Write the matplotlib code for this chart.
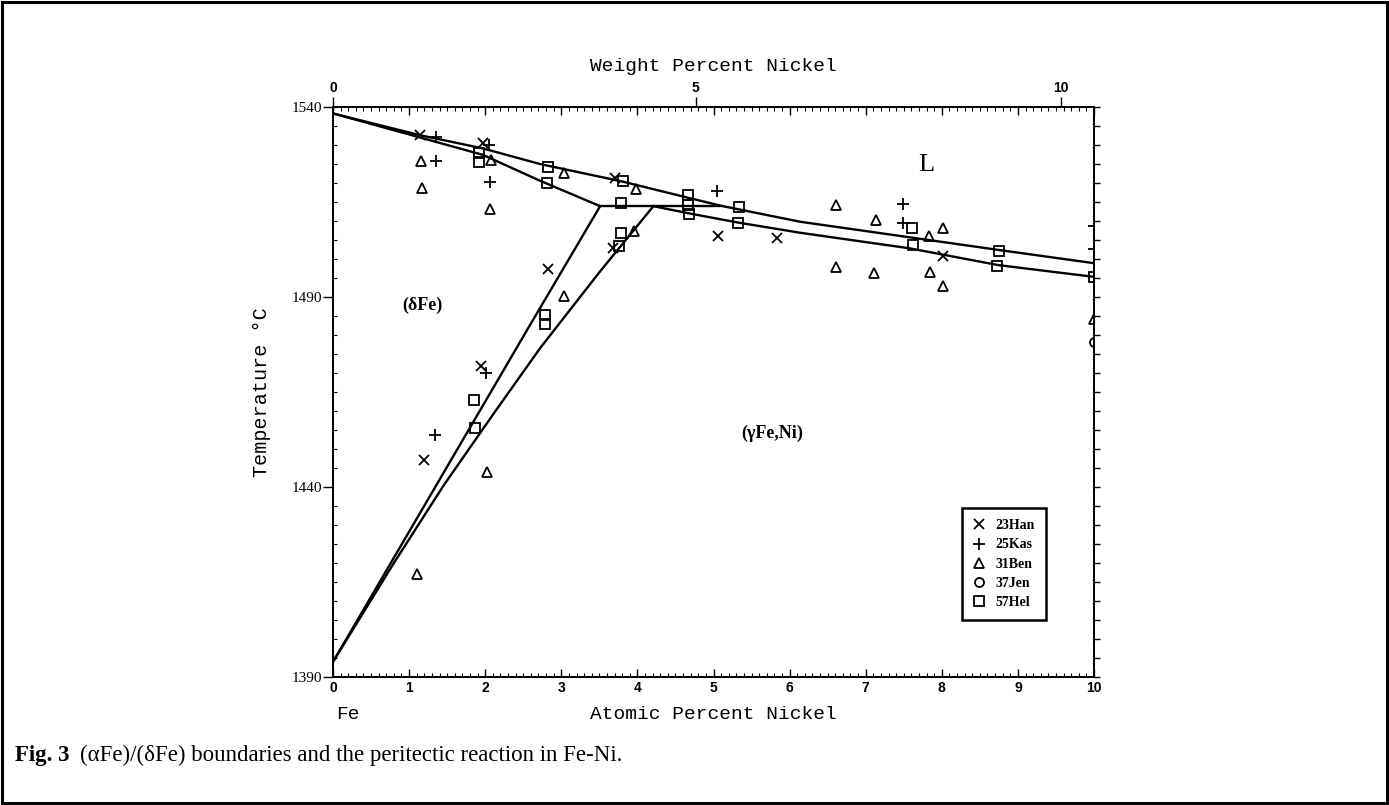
"""
Fe-Ni: (deltaFe)/(gammaFe) boundaries and the peritectic reaction
"""
import matplotlib.pyplot as plt
from matplotlib.patches import Rectangle
from matplotlib.ticker import MultipleLocator

# Phase boundaries (atomic % Ni, temperature in C)
liq_x = [0, 1.14, 1.97, 2.72, 3.8, 4.65, 5.1, 6.14, 7.58, 8.74, 10]
liq_t = [1538.3, 1532.6, 1529.1, 1525.0, 1520.4, 1516.2, 1514.0, 1509.8, 1505.7, 1502.4, 1498.9]

sol_d_x = [0, 1.14, 1.97, 2.72, 3.51]
sol_d_t = [1538.3, 1532.0, 1527.4, 1520.6, 1513.9]

perit_x = [3.51, 5.1]
perit_t = [1513.9, 1513.9]

sol_g_x = [4.21, 4.68, 5.32, 6.14, 7.58, 8.74, 10]
sol_g_t = [1513.9, 1512.0, 1509.6, 1506.9, 1502.8, 1498.4, 1495.3]

delta_x = [0, 2.55, 3.51]
delta_t = [1394, 1481.3, 1513.9]

gamma_x = [0, 0.8, 1.45, 2.1, 2.72, 3.5, 4.21]
gamma_t = [1394, 1420.0, 1440.3, 1459.0, 1476.5, 1496.5, 1513.9]

# Experimental points
han_x = [1.14, 1.97, 3.71, 5.06, 5.84, 8.01, 3.68, 2.82, 1.95, 1.19]
han_t = [1532.6, 1530.4, 1521.2, 1506.1, 1505.6, 1500.8, 1502.8, 1497.3, 1471.8, 1447.1]

kas_x = [1.35, 1.36, 2.05, 2.06, 5.04, 7.49, 7.49, 10.0, 10.0, 2.01, 1.34]
kas_t = [1532.0, 1525.9, 1530.0, 1520.3, 1518.0, 1514.5, 1509.4, 1508.7, 1502.6, 1469.9, 1453.7]

ben_x = [1.16, 1.17, 2.07, 2.06, 3.04, 3.98, 3.95, 3.04, 6.61, 7.13, 7.83, 8.01,
         6.61, 7.11, 7.84, 8.01, 10.0, 2.03, 1.10]
ben_t = [1525.9, 1518.6, 1526.0, 1513.1, 1522.7, 1518.3, 1507.5, 1490.3, 1514.2, 1510.3,
         1506.1, 1508.1, 1498.0, 1496.4, 1496.7, 1492.9, 1484.1, 1444.0, 1417.1]

jen_x = [10.0]
jen_t = [1478.2]

hel_x = [1.92, 1.92, 2.82, 2.81, 3.81, 3.79, 3.78, 3.76, 4.66, 4.66, 4.68, 5.33, 5.32,
         7.61, 7.62, 8.75, 8.73, 10.0, 2.79, 2.79, 1.85, 1.87]
hel_t = [1527.8, 1525.6, 1524.3, 1520.1, 1520.5, 1514.7, 1506.9, 1503.5, 1516.8, 1514.2,
         1511.8, 1513.6, 1509.6, 1508.1, 1503.7, 1502.2, 1498.2, 1495.3, 1485.3, 1482.8,
         1463.0, 1455.6]

at_ticks = list(range(0, 11))
wt_labels = [0, 5, 10]


def wt_to_at(w):
    """weight % Ni -> atomic % Ni"""
    n_ni = w / 58.69
    n_fe = (100 - w) / 55.845
    return 100 * n_ni / (n_ni + n_fe)


W, H = 1389, 805
fig = plt.figure(figsize=(W / 100, H / 100), dpi=100)
ax = fig.add_axes([333 / W, 128 / H, 761 / W, 570 / H])

for bx, bt in [(liq_x, liq_t), (sol_d_x, sol_d_t), (perit_x, perit_t),
               (sol_g_x, sol_g_t), (delta_x, delta_t), (gamma_x, gamma_t)]:
    ax.plot(bx, bt, color='black', lw=1.7, solid_joinstyle='miter')

mk = dict(ls='none', color='black', mfc='none')
ax.plot(han_x, han_t, marker='x', ms=7, mew=1.3, label='23Han', **mk)
ax.plot(kas_x, kas_t, marker='+', ms=8, mew=1.3, label='25Kas', **mk)
ax.plot(ben_x, ben_t, marker='^', ms=6.5, mew=1.3, label='31Ben', **mk)
ax.plot(jen_x, jen_t, marker='o', ms=6.5, mew=1.3, label='37Jen', **mk)
ax.plot(hel_x, hel_t, marker='s', ms=6.5, mew=1.3, label='57Hel', **mk)

# right-hand temperature ticks
axr = ax.twinx()
axr.set_ylim(1390, 1540)
axr.yaxis.set_major_locator(MultipleLocator(5))
axr.tick_params(axis='y', direction='out', length=4, width=1, labelright=False)

# weight percent scale on top
axt = ax.twiny()
axt.set_xlim(0, 10)
axt.set_xticks([wt_to_at(w) for w in wt_labels])
axt.set_xticklabels([str(w) for w in wt_labels], fontfamily='Liberation Sans',
                    fontweight='bold', fontsize=10)
axt.tick_params(axis='x', direction='out', length=7, width=1, pad=2)

ax.set_xlim(0, 10)
ax.set_ylim(1390, 1540)
ax.set_xticks(at_ticks)
ax.set_xticklabels([str(v) for v in at_ticks], fontfamily='Liberation Sans',
                   fontweight='bold', fontsize=10)
ax.xaxis.set_minor_locator(MultipleLocator(0.1))
ax.tick_params(axis='x', which='both', direction='in', top=True, bottom=True,
               labeltop=False, pad=3)
ax.tick_params(axis='x', which='major', length=6, width=1)
ax.tick_params(axis='x', which='minor', length=3, width=0.8)

ax.set_yticks([1390, 1440, 1490, 1540])
ax.set_yticklabels(['1390', '1440', '1490', '1540'], fontfamily='Liberation Serif',
                   fontsize=11)
ax.yaxis.set_minor_locator(MultipleLocator(5))
ax.tick_params(axis='y', which='major', direction='out', length=7, width=1,
               left=True, right=False, pad=1)
ax.tick_params(axis='y', which='minor', direction='in', length=3, width=0.8,
               left=True, right=False)

for a in (ax, axr, axt):
    for s in a.spines.values():
        s.set_linewidth(1.4)

mono = dict(fontfamily='Liberation Mono', fontsize=14)
ax.text(0.5, 1.0702, 'Weight Percent Nickel', transform=ax.transAxes,
        ha='center', va='center', **mono)
ax.text(0.5, -0.065, 'Atomic Percent Nickel', transform=ax.transAxes,
        ha='center', va='center', **mono)
ax.text(0.2, -0.065, 'Fe', transform=ax.get_xaxis_transform(),
        ha='center', va='center', **mono)
ax.text(-0.0933, 0.5, 'Temperature °C', transform=ax.transAxes, rotation=90,
        ha='center', va='center', fontfamily='Liberation Mono', fontsize=14.5)

# phase field labels
ax.text(1.17, 1487.9, '(δFe)', ha='center', va='center',
        fontfamily='Liberation Serif', fontweight='bold', fontsize=13)
ax.text(5.77, 1454, '(γFe,Ni)', ha='center', va='center',
        fontfamily='Liberation Serif', fontweight='bold', fontsize=13)
ax.text(7.79, 1524.7, 'L', ha='center', va='center',
        fontfamily='Liberation Serif', fontsize=19)

leg = ax.legend(loc='upper left', bbox_to_anchor=(962 / W, (H - 508) / H),
                bbox_transform=fig.transFigure, frameon=True, fancybox=False,
                edgecolor='black', framealpha=1, borderaxespad=0,
                handlelength=0.9, handletextpad=0.7, labelspacing=0.45,
                borderpad=0.8,
                prop=dict(family='Liberation Serif', weight='bold', size=10))
leg.get_frame().set_linewidth(1.8)

# caption
cap_y = (H - 755) / H
t1 = fig.text(15 / W, cap_y, 'Fig. 3', fontfamily='Liberation Serif',
              fontweight='bold', fontsize=16.5, va='center')
fig.canvas.draw()
bb = t1.get_window_extent()
fig.text((bb.x1 + 10) / W, cap_y,
         '(αFe)/(δFe) boundaries and the peritectic reaction in Fe-Ni.',
         fontfamily='Liberation Serif', fontsize=16.5, va='center')

# outer frame
fig.add_artist(Rectangle((0.0015, 0.0025), 0.997, 0.995, transform=fig.transFigure,
                         fill=False, lw=2.2, ec='black'))

fig.savefig('out.png', dpi=100)
